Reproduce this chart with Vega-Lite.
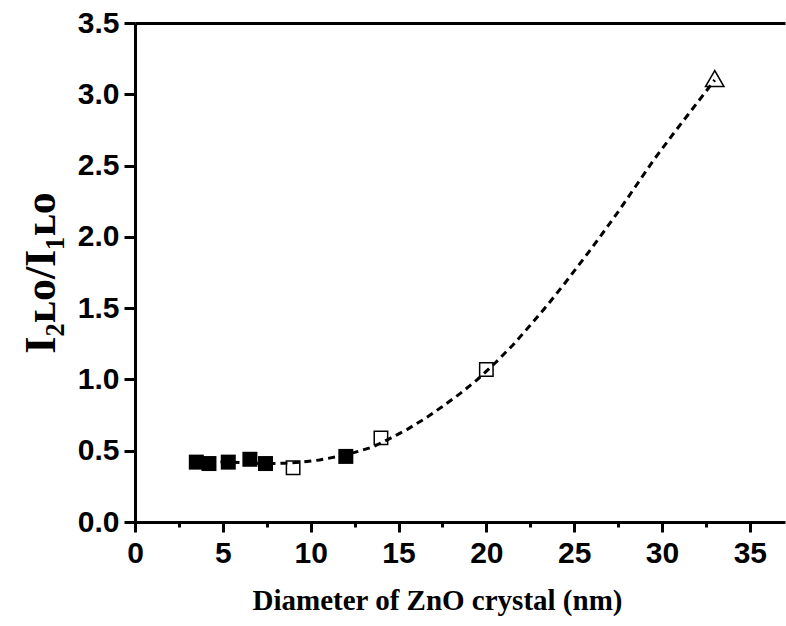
{
  "$schema": "https://vega.github.io/schema/vega-lite/v6.json",
  "width": 650,
  "height": 499,
  "autosize": {"type": "none"},
  "padding": {"left": 135, "top": 23, "right": 1, "bottom": 104},
  "background": "white",
  "config": {"view": {"stroke": null}},
  "datasets": {
    "curve": [
      {"x": 3.5, "y": 0.43}, {"x": 4.5, "y": 0.425}, {"x": 5.5, "y": 0.42}, {"x": 6.5, "y": 0.415},
      {"x": 7.5, "y": 0.41}, {"x": 8.5, "y": 0.412}, {"x": 9.5, "y": 0.42}, {"x": 10.5, "y": 0.435},
      {"x": 11.5, "y": 0.458}, {"x": 12.5, "y": 0.488}, {"x": 13.5, "y": 0.525}, {"x": 14.5, "y": 0.585},
      {"x": 15.5, "y": 0.65}, {"x": 16.5, "y": 0.725}, {"x": 17.5, "y": 0.81}, {"x": 18.5, "y": 0.9},
      {"x": 19.5, "y": 1.0}, {"x": 20.5, "y": 1.115}, {"x": 21.5, "y": 1.24}, {"x": 22.5, "y": 1.38},
      {"x": 23.5, "y": 1.525}, {"x": 24.5, "y": 1.68}, {"x": 25.5, "y": 1.84}, {"x": 26.5, "y": 2.005},
      {"x": 27.5, "y": 2.175}, {"x": 28.5, "y": 2.355}, {"x": 29.5, "y": 2.535}, {"x": 30.5, "y": 2.7},
      {"x": 31.5, "y": 2.86}, {"x": 32.5, "y": 3.02}, {"x": 33.0, "y": 3.1}
    ],
    "points": [
      {"x": 3.49, "y": 0.42, "kind": "filled"},
      {"x": 4.21, "y": 0.41, "kind": "filled"},
      {"x": 5.31, "y": 0.42, "kind": "filled"},
      {"x": 6.54, "y": 0.44, "kind": "filled"},
      {"x": 7.43, "y": 0.41, "kind": "filled"},
      {"x": 12.0, "y": 0.46, "kind": "filled"},
      {"x": 9.0, "y": 0.38, "kind": "open"},
      {"x": 14.0, "y": 0.59, "kind": "open"},
      {"x": 20.0, "y": 1.07, "kind": "open"},
      {"x": 33.0, "y": 3.11, "kind": "triangle"}
    ]
  },
  "layer": [
    {
      "data": {"name": "curve"},
      "mark": {"type": "line", "color": "black", "strokeDash": [7, 5], "strokeWidth": 3},
      "encoding": {
        "x": {
          "field": "x", "type": "quantitative",
          "scale": {"domain": [0, 37], "nice": false, "zero": false},
          "axis": {"orient": "top", "labels": false, "ticks": false, "grid": false, "title": null,
                   "domainColor": "black", "domainWidth": 3}
        },
        "y": {
          "field": "y", "type": "quantitative",
          "scale": {"domain": [0, 3.5], "nice": false},
          "axis": {
            "values": [0, 0.25, 0.5, 0.75, 1, 1.25, 1.5, 1.75, 2, 2.25, 2.5, 2.75, 3, 3.25, 3.5],
            "labelExpr": "datum.value % 0.5 === 0 ? format(datum.value, '.1f') : ''",
            "tickSize": {"condition": {"test": "datum.value % 0.5 === 0", "value": 11}, "value": 6},
            "grid": false,
            "labelFlush": false,
            "domainColor": "black", "domainWidth": 3,
            "tickColor": "black", "tickWidth": 3,
            "labelFont": "Liberation Sans", "labelFontWeight": "bold", "labelFontSize": 30,
            "labelColor": "black", "labelPadding": 5,
            "title": "I₂ʟᴏ/I₁ʟᴏ",
            "titleFont": "Liberation Serif", "titleFontWeight": "bold", "titleFontSize": 44,
            "titleColor": "black", "titlePadding": 14
          }
        }
      }
    },
    {
      "data": {"name": "points"},
      "transform": [{"filter": "datum.kind === 'filled'"}],
      "mark": {"type": "point", "shape": "square", "filled": true, "color": "black", "size": 225, "opacity": 1},
      "encoding": {
        "x": {
          "field": "x", "type": "quantitative",
          "axis": {
            "orient": "bottom",
            "values": [0, 2.5, 5, 7.5, 10, 12.5, 15, 17.5, 20, 22.5, 25, 27.5, 30, 32.5, 35],
            "labelExpr": "datum.value % 5 === 0 ? datum.label : ''",
            "tickSize": {"condition": {"test": "datum.value % 5 === 0", "value": 10}, "value": 5},
            "grid": false,
            "labelFlush": false,
            "domainColor": "black", "domainWidth": 3,
            "tickColor": "black", "tickWidth": 3,
            "labelFont": "Liberation Sans", "labelFontWeight": "bold", "labelFontSize": 30,
            "labelColor": "black", "labelPadding": 6,
            "title": "Diameter of ZnO crystal (nm)",
            "titleFont": "Liberation Serif", "titleFontWeight": "bold", "titleFontSize": 29,
            "titleColor": "black", "titlePadding": 18,
            "titleX": 302, "titleAlign": "center"
          }
        },
        "y": {"field": "y", "type": "quantitative"}
      }
    },
    {
      "data": {"name": "points"},
      "transform": [{"filter": "datum.kind === 'open'"}],
      "mark": {"type": "point", "shape": "square", "filled": false, "color": "black", "size": 180, "strokeWidth": 1.5, "opacity": 1},
      "encoding": {
        "x": {"field": "x", "type": "quantitative", "axis": null},
        "y": {"field": "y", "type": "quantitative"}
      }
    },
    {
      "data": {"name": "points"},
      "transform": [{"filter": "datum.kind === 'triangle'"}],
      "mark": {"type": "point", "shape": "triangle-up", "filled": false, "color": "black", "size": 340, "strokeWidth": 1.5, "opacity": 1},
      "encoding": {
        "x": {"field": "x", "type": "quantitative", "axis": null},
        "y": {"field": "y", "type": "quantitative"}
      }
    }
  ],
  "resolve": {"axis": {"x": "independent"}}
}
